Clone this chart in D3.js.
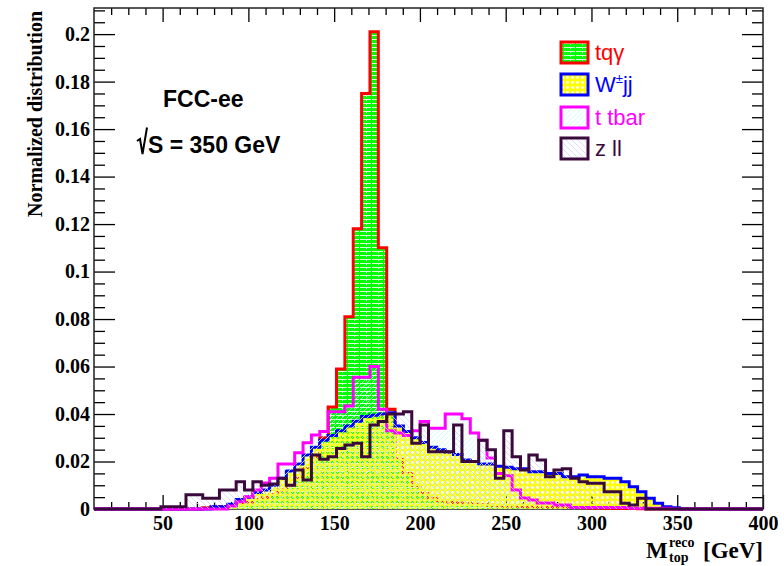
<!DOCTYPE html>
<html>
<head>
<meta charset="utf-8">
<script src="https://cdn.jsdelivr.net/npm/d3@7"></script>
<style>
  html, body { margin: 0; padding: 0; background: #fff; }
  svg { display: block; }
</style>
</head>
<body>
<svg id="chart" width="784" height="566"></svg>
<script>
// Histogram binning: 80 bins between 10 and 400 GeV
const binLow = 10, binHigh = 400, nBins = 80;

// Normalized reconstructed top-mass distributions, one value per bin
const tqgamma = [
  0,0,0,0,0,0,0,0,0,0,0,0,0,
  0.0005,0.001,0.001,0.0015,0.002,0.003,0.004,0.005,0.006,0.008,0.010,0.013,0.017,0.022,0.030,
  0.043,0.059,0.081,0.118,0.175,0.201,0.110,0.042,
  0.021,0.015,0.010,0.0065,0.0045,0.0035,0.003,0.0025,0.0022,0.002,0.0018,0.0016,0.0014,0.0013,0.0012,
  0.001,0.001,0.0009,0.0008,0.0008,0.0007,0.0006,0.0005,0.0004,0.0004,0.0003,0.0003,0.0002,0.0002,0.0001,
  0,0,0,0,0,0,0,0,0,0,0,0,0,0
];
const wjj = [
  0,0,0,0,0,0,0,0,0,0,0,0,0,0,
  0.001,0.001,0.002,0.004,0.005,0.007,0.008,0.010,0.013,0.016,0.019,0.0227,0.026,0.029,0.031,0.033,0.035,0.037,0.039,0.0395,0.040,0.0405,
  0.035,0.0326,0.030,0.028,0.026,0.025,0.024,0.023,0.0206,0.020,
  0.019,0.019,0.018,0.0176,0.017,0.017,0.0157,0.0157,0.015,0.015,
  0.0136,0.0136,0.0143,0.0136,0.0136,0.013,0.013,0.0115,0.0094,0.0073,0.0045,0.0024,0.001,0.0005,
  0,0,0,0,0,0,0,0,0,0
];
const ttbar = [
  0,0,0,0,0,0,0,0,0,0,0,0,0,0,0,0,
  0.0013,0.0031,0.0052,0.008,0.011,0.0129,0.019,0.019,0.0237,0.0279,0.0312,0.0326,
  0.041,0.041,0.0434,0.0555,0.0555,0.060,0.042,
  0.033,0.032,0.031,0.033,0.0368,0.034,0.034,0.040,0.040,0.038,0.032,0.029,
  0.0215,0.015,0.014,0.008,0.0046,0.0038,0.0025,0.0025,0.0017,0.0017,
  0.0006,0.0006,0.0006,0.0006,0.0006,0.0006,0.0006,0.0003,0.0003,0.0003,0.0003,0.0003,
  0,0,0,0,0,0,0,0,0,0,0
];
const zll = [
  0,0,0,0,0,0,0,0,
  0.001,0.001,0.001,0.006,0.006,0.0045,0.0045,0.008,0.008,0.0115,0.008,0.0115,0.010,0.0105,0.0129,0.010,0.0164,0.0122,0.0227,
  0.021,0.022,0.0255,0.027,0.0277,0.022,0.0354,0.0368,0.040,0.040,0.041,
  0.0277,0.0354,0.0241,0.0241,0.0241,0.0354,0.020,0.020,0.029,0.025,0.0129,0.033,0.022,
  0.0164,0.0227,0.0206,0.0136,0.0164,0.017,0.0129,0.0115,0.0108,0.0108,0.0073,0.0073,0.0024,0.0017,0.0045,
  0,0,0,0,0,0,0,0,0,0,0,0,0,0
];

const xTickValues = [50, 100, 150, 200, 250, 300, 350, 400];
const yTickValues = [0, 0.02, 0.04, 0.06, 0.08, 0.1, 0.12, 0.14, 0.16, 0.18, 0.2];
const yTickLabels = ["0", "0.02", "0.04", "0.06", "0.08", "0.1", "0.12", "0.14", "0.16", "0.18", "0.2"];
const legendLabels = ["tq\u03B3", "W", "t tbar", "z ll"];

const svg = d3.select("#chart");
const frame = { left: 94, right: 763, top: 8, bottom: 509 };

const x = d3.scaleLinear().domain([binLow, binHigh]).range([frame.left, frame.right]);
const y = d3.scaleLinear().domain([0, 0.211]).range([frame.bottom, frame.top]);
const edges = d3.range(nBins + 1).map(i => binLow + i * (binHigh - binLow) / nBins);

// ---------- fill patterns ----------
const defs = svg.append("defs");

const pGreen = defs.append("pattern").attr("id", "fillTq")
  .attr("patternUnits", "userSpaceOnUse").attr("width", 12).attr("height", 4);
pGreen.append("rect").attr("width", 12).attr("height", 4).attr("fill", "#00ff00");
pGreen.append("rect").attr("x", 0).attr("y", 3).attr("width", 11).attr("height", 1).attr("fill", "#ffffff").attr("opacity", 0.85);
pGreen.append("rect").attr("x", 6).attr("y", 0).attr("width", 1).attr("height", 1.2).attr("fill", "#ffffff").attr("opacity", 0.8);

const pYellow = defs.append("pattern").attr("id", "fillW")
  .attr("patternUnits", "userSpaceOnUse").attr("width", 5).attr("height", 5);
pYellow.append("path")
  .attr("d", "M0,0H5V5H0Z M1.1,2.5a1.4,1.4 0 1,0 2.8,0a1.4,1.4 0 1,0 -2.8,0Z")
  .attr("fill", "#ffff00").attr("fill-rule", "evenodd");

const pCyan = defs.append("pattern").attr("id", "fillTt")
  .attr("patternUnits", "userSpaceOnUse").attr("width", 5).attr("height", 5);
pCyan.append("path").attr("d", "M0,5L5,0M-1,1L1,-1M4,6L6,4")
  .attr("stroke", "#c4ffff").attr("stroke-width", 0.8);

const pLav = defs.append("pattern").attr("id", "fillZ")
  .attr("patternUnits", "userSpaceOnUse").attr("width", 6).attr("height", 6);
pLav.append("path").attr("d", "M0,0L6,6M-1,5L1,7M5,-1L7,1")
  .attr("stroke", "#d0d0ff").attr("stroke-width", 0.8);

defs.append("clipPath").attr("id", "plotClip")
  .append("rect").attr("x", frame.left).attr("y", frame.top - 2)
  .attr("width", frame.right - frame.left).attr("height", frame.bottom - frame.top + 4);

// ---------- axes (drawn first; histograms sit on top) ----------
const axisFont = "'Liberation Serif', 'Times New Roman', serif";
const minorX = d3.range(20, 400, 10).filter(v => v % 50 !== 0);
const minorY = d3.range(0, 0.2101, 0.005).filter((v, i) => i % 4 !== 0);

function styleAxis(g) {
  g.select(".domain").remove();
  g.selectAll(".tick line").attr("stroke", "#000").attr("stroke-width", 1.3);
}

svg.append("g").attr("transform", `translate(0,${frame.bottom})`)
  .call(d3.axisBottom(x).tickValues(xTickValues).tickSize(-14).tickPadding(7).tickFormat(d3.format("d")))
  .call(styleAxis)
  .call(g => g.selectAll("text").attr("font-family", axisFont).attr("font-weight", "bold")
    .attr("font-size", 20).attr("fill", "#000"));
svg.append("g").attr("transform", `translate(0,${frame.bottom})`)
  .call(d3.axisBottom(x).tickValues(minorX).tickSize(-7).tickFormat(""))
  .call(styleAxis);
svg.append("g").attr("transform", `translate(0,${frame.top})`)
  .call(d3.axisTop(x).tickValues(xTickValues.filter(v => v < 400)).tickSize(-14).tickFormat(""))
  .call(styleAxis);
svg.append("g").attr("transform", `translate(0,${frame.top})`)
  .call(d3.axisTop(x).tickValues(minorX).tickSize(-7).tickFormat(""))
  .call(styleAxis);

svg.append("g").attr("transform", `translate(${frame.left},0)`)
  .call(d3.axisLeft(y).tickValues(yTickValues).tickSize(-21).tickPadding(4)
    .tickFormat((d, i) => yTickLabels[i]))
  .call(styleAxis)
  .call(g => g.selectAll("text").attr("font-family", axisFont).attr("font-weight", "bold")
    .attr("font-size", 20).attr("fill", "#000"));
svg.append("g").attr("transform", `translate(${frame.left},0)`)
  .call(d3.axisLeft(y).tickValues(minorY).tickSize(-11).tickFormat(""))
  .call(styleAxis);
svg.append("g").attr("transform", `translate(${frame.right},0)`)
  .call(d3.axisRight(y).tickValues(yTickValues).tickSize(-21).tickFormat(""))
  .call(styleAxis);
svg.append("g").attr("transform", `translate(${frame.right},0)`)
  .call(d3.axisRight(y).tickValues(minorY).tickSize(-11).tickFormat(""))
  .call(styleAxis);

svg.append("rect")
  .attr("x", frame.left).attr("y", frame.top)
  .attr("width", frame.right - frame.left).attr("height", frame.bottom - frame.top)
  .attr("fill", "none").attr("stroke", "#222").attr("stroke-width", 1.5);

// ---------- histograms ----------
const series = [
  { values: tqgamma, fill: "url(#fillTq)", stroke: "#ff0000" },
  { values: wjj,     fill: "url(#fillW)",  stroke: "#0000ff" },
  { values: ttbar,   fill: "url(#fillTt)", stroke: "#ff00ff" },
  { values: zll,     fill: "url(#fillZ)",  stroke: "#3a0a3c" }
];

const stepLine = d3.line().x(d => x(d[0])).y(d => y(d[1]));
function stepPoints(vals) {
  const pts = [[edges[0], 0]];
  vals.forEach((v, i) => { pts.push([edges[i], v], [edges[i + 1], v]); });
  pts.push([edges[nBins], 0]);
  return pts;
}

const plot = svg.append("g").attr("clip-path", "url(#plotClip)");
series.forEach(s => {
  const pts = stepPoints(s.values);
  plot.append("path").attr("d", stepLine(pts) + "Z").attr("fill", s.fill).attr("stroke", "none");
  plot.append("path").attr("d", stepLine(pts)).attr("fill", "none")
    .attr("stroke", s.stroke).attr("stroke-width", 3).attr("stroke-linejoin", "miter");
});

// ---------- axis titles ----------
svg.append("text")
  .attr("transform", "translate(42,114) rotate(-90)")
  .attr("text-anchor", "middle")
  .attr("font-family", axisFont).attr("font-weight", "bold").attr("font-size", 20)
  .text("Normalized distribution");

const xt = svg.append("g").attr("font-family", axisFont).attr("font-weight", "bold").attr("fill", "#000");
xt.append("text").attr("x", 763).attr("y", 558).attr("text-anchor", "end").attr("font-size", 23).text("[GeV]");
xt.append("text").attr("x", 646).attr("y", 558).attr("font-size", 23).text("M");
xt.append("text").attr("x", 669).attr("y", 547).attr("font-size", 14).text("reco");
xt.append("text").attr("x", 669).attr("y", 562).attr("font-size", 14).text("top");

// ---------- annotations ----------
const sans = "'Liberation Sans', Arial, sans-serif";
svg.append("text").attr("x", 163).attr("y", 107)
  .attr("font-family", sans).attr("font-weight", "bold").attr("font-size", 23).text("FCC-ee");
svg.append("path").attr("d", "M137,141 L140,139 L142.5,154 L147,127.5")
  .attr("fill", "none").attr("stroke", "#000").attr("stroke-width", 2);
svg.append("text").attr("x", 148).attr("y", 153)
  .attr("font-family", sans).attr("font-weight", "bold").attr("font-size", 23).text("S = 350 GeV");

// ---------- legend ----------
const legendY = [42, 74, 107, 138];
const legendColors = ["#ff0000", "#0000ff", "#ff00ff", "#3a0a3c"];
const lg = svg.append("g");
series.forEach((s, i) => {
  lg.append("rect").attr("x", 561).attr("y", legendY[i]).attr("width", 27).attr("height", 21)
    .attr("fill", s.fill).attr("stroke", s.stroke).attr("stroke-width", 3);
  const t = lg.append("text").attr("x", 595).attr("y", legendY[i] + 18)
    .attr("font-family", sans).attr("font-size", 22).attr("fill", legendColors[i])
    .text(legendLabels[i]);
  if (i === 1) {
    t.append("tspan").attr("font-size", 13).attr("dy", -9).text("\u00B1");
    t.append("tspan").attr("font-size", 22).attr("dy", 9).text("jj");
  }
});
</script>
</body>
</html>
